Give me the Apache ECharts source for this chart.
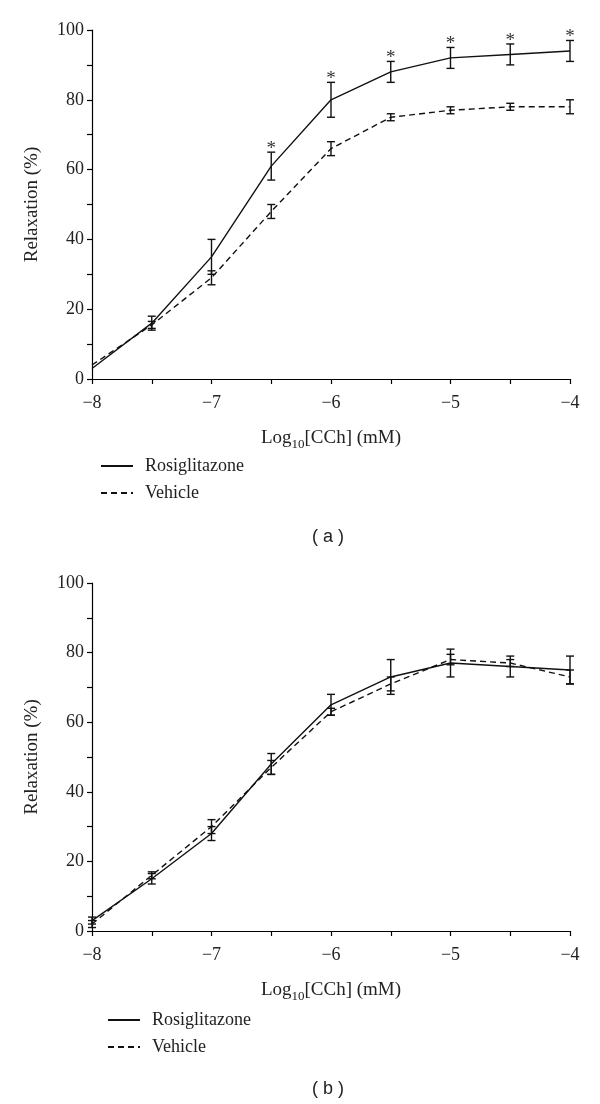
<!DOCTYPE html>
<html>
<head>
<meta charset="utf-8">
<script src="https://cdn.jsdelivr.net/npm/echarts@6/dist/echarts.min.js"></script>
<style>
html,body{margin:0;padding:0;background:#fff;}
#chart{width:600px;height:1104px;}
</style>
</head>
<body>
<div id="chart"></div>
<script>
// ---- data ----
const xValues = [-8, -7.5, -7, -6.5, -6, -5.5, -5, -4.5, -4];
// panel (a)
const rosA    = [3, 16, 35, 61, 80, 88, 92, 93, 94];
const rosAErr = [0, 2, 5, 4, 5, 3, 3, 3, 3];
const vehA    = [4, 15.5, 29, 48, 66, 75, 77, 78, 78];
const vehAErr = [0, 1, 2, 2, 2, 1, 1, 1, 2];
const sigA    = [0, 0, 0, 1, 1, 1, 1, 1, 1];
// panel (b)
const rosB    = [3, 15, 28, 48, 65, 73, 77, 76, 75];
const rosBErr = [1, 1.5, 2, 3, 3, 5, 4, 3, 4];
const vehB    = [2, 16, 30, 47, 63, 71, 78, 77, 73];
const vehBErr = [1, 1, 2, 2, 1, 2, 1.5, 1, 2];
const sigB    = [0, 0, 0, 0, 0, 0, 0, 0, 0];
const seriesNames = ['Rosiglitazone', 'Vehicle'];
const panelLabels = ['( a )', '( b )'];
const yName = 'Relaxation (%)';

const serif = 'Liberation Serif';
const ink = '#111';

function pairs(ys) { return xValues.map((x, i) => [x, ys[i]]); }
function errData(ys, es, sig) { return xValues.map((x, i) => [x, ys[i], es[i], sig ? sig[i] : 0]); }

function errSeries(ys, es, sig, gi) {
  return {
    type: 'custom',
    xAxisIndex: gi, yAxisIndex: gi,
    silent: true,
    z: 3,
    encode: { x: 0, y: 1 },
    data: errData(ys, es, sig),
    renderItem: function (params, api) {
      const x = api.value(0), y = api.value(1), e = api.value(2), s = api.value(3);
      const children = [];
      const top = api.coord([x, y + e]);
      const bot = api.coord([x, y - e]);
      const st = { stroke: ink, lineWidth: 1.4 };
      if (e > 0) {
        children.push({ type: 'line', shape: { x1: top[0], y1: top[1], x2: bot[0], y2: bot[1] }, style: st });
        children.push({ type: 'line', shape: { x1: top[0] - 4, y1: top[1], x2: top[0] + 4, y2: top[1] }, style: st });
        children.push({ type: 'line', shape: { x1: bot[0] - 4, y1: bot[1], x2: bot[0] + 4, y2: bot[1] }, style: st });
      }
      if (s) {
        children.push({ type: 'text', x: top[0], y: top[1] - 3,
          style: { text: '*', fill: '#333', font: '19px ' + serif, textAlign: 'center', textVerticalAlign: 'middle' } });
      }
      return { type: 'group', children: children };
    }
  };
}

function lineSeries(name, ys, gi, dashed) {
  return {
    name: name, type: 'line',
    xAxisIndex: gi, yAxisIndex: gi,
    data: pairs(ys),
    symbol: 'none',
    z: 4,
    lineStyle: { color: ink, width: 1.4, type: dashed ? [6, 4] : 'solid' },
    itemStyle: { color: ink },
    animation: false
  };
}

const minus = v => (v < 0 ? '\u2212' + Math.abs(v) : String(v));

function xAxis(gi) {
  return {
    type: 'value', gridIndex: gi, min: -8, max: -4, interval: 1,
    name: '{a|Log}{s|10}{a|[CCh] (mM)}', nameLocation: 'middle', nameGap: 47,
    nameTextStyle: {
      rich: {
        a: { fontFamily: serif, fontSize: 19, color: '#222', lineHeight: 22, verticalAlign: 'bottom' },
        s: { fontFamily: serif, fontSize: 13, color: '#222', lineHeight: 16, verticalAlign: 'bottom', padding: [0, 0, -3, 0] }
      }
    },
    axisLine: { show: true, lineStyle: { color: '#000', width: 1.2 } },
    axisTick: { show: true, length: 5, lineStyle: { color: '#000', width: 1.2 } },
    minorTick: { show: true, splitNumber: 2, length: 5, lineStyle: { color: '#000', width: 1.2 } },
    splitLine: { show: false },
    axisLabel: { fontFamily: serif, fontSize: 18, color: '#222', margin: 15, formatter: minus }
  };
}
function yAxis(gi) {
  return {
    type: 'value', gridIndex: gi, min: 0, max: 100, interval: 20,
    name: yName, nameLocation: 'middle', nameGap: 50, nameRotate: 90,
    nameTextStyle: { fontFamily: serif, fontSize: 19, color: '#222' },
    axisLine: { show: true, lineStyle: { color: '#000', width: 1.2 } },
    axisTick: { show: true, length: 5, lineStyle: { color: '#000', width: 1.2 } },
    minorTick: { show: true, splitNumber: 2, length: 5, lineStyle: { color: '#000', width: 1.2 } },
    splitLine: { show: false },
    axisLabel: { fontFamily: serif, fontSize: 18, color: '#222', margin: 8 }
  };
}

function legend(left, top) {
  return {
    orient: 'vertical', left: left, top: top,
    data: seriesNames,
    itemWidth: 32, itemHeight: 14, itemGap: 9,
    selectedMode: false,
    itemStyle: { opacity: 0 },
    textStyle: { fontFamily: serif, fontSize: 18, color: '#222', padding: [0, 0, 0, 7] }
  };
}

const chart = echarts.init(document.getElementById('chart'), null, { renderer: 'canvas' });
chart.setOption({
  animation: false,
  backgroundColor: '#fff',
  grid: [
    { left: 92, right: 30, top: 30, height: 349 },
    { left: 92, right: 30, top: 583, height: 348 }
  ],
  xAxis: [xAxis(0), xAxis(1)],
  yAxis: [yAxis(0), yAxis(1)],
  legend: [legend(95, 452), legend(102, 1006)],
  graphic: [
    { type: 'text', left: 312, top: 528, style: { text: panelLabels[0], font: '18px "Liberation Sans"', fill: '#222' } },
    { type: 'text', left: 312, top: 1080, style: { text: panelLabels[1], font: '18px "Liberation Sans"', fill: '#222' } }
  ],
  series: [
    lineSeries(seriesNames[0], rosA, 0, false),
    lineSeries(seriesNames[1], vehA, 0, true),
    errSeries(rosA, rosAErr, sigA, 0),
    errSeries(vehA, vehAErr, null, 0),
    lineSeries(seriesNames[0], rosB, 1, false),
    lineSeries(seriesNames[1], vehB, 1, true),
    errSeries(rosB, rosBErr, sigB, 1),
    errSeries(vehB, vehBErr, null, 1)
  ]
});
</script>
</body>
</html>
